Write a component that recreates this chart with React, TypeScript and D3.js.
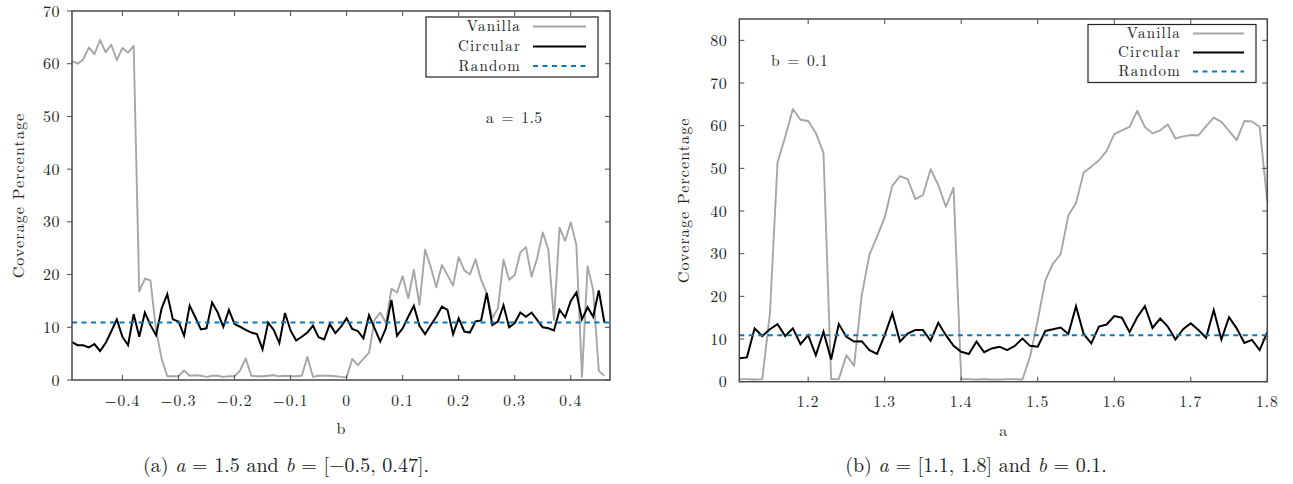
import React from "react";
import * as d3 from "d3";

// ---------- data (left panel: a = 1.5, b varies) ----------
const leftStart = -0.49;
const leftStep = 0.01;
const vanillaLeft = [
  60.5, 60.0, 60.8, 63.1, 61.8, 64.5, 62.2, 63.6, 60.7, 63.0, 62.1, 63.4,
  16.8, 19.2, 18.9, 9.5, 4.0,
  0.7, 0.7, 0.7, 1.8, 0.8, 0.9, 0.8, 0.6, 0.8, 0.8, 0.6, 0.7, 0.7,
  1.8, 4.1, 0.8, 0.7, 0.7, 0.8, 0.9, 0.7, 0.8, 0.7, 0.7, 0.8,
  4.4, 0.6, 0.8, 0.8, 0.8, 0.7, 0.6, 0.5,
  4.0, 2.8, 4.0, 5.2, 11.4, 12.8, 10.8, 17.3, 16.6, 19.7,
  15.5, 20.9, 14.2, 24.7, 21.5, 17.6, 21.8, 19.9, 17.9, 23.3,
  20.8, 20.0, 22.9, 19.0, 16.5, 11.7, 13.6, 22.8, 19.0, 19.9,
  24.2, 25.2, 19.6, 23.1, 28.0, 24.7, 11.4, 28.9, 26.4, 29.9,
  25.6, 0.6, 21.6, 17.1, 1.7, 0.8,
];
const circularLeft = [
  7.2, 6.6, 6.6, 6.2, 6.8, 5.5, 7.0, 9.2, 11.5, 8.2,
  6.6, 12.5, 8.2, 12.8, 10.4, 8.5, 13.6, 16.3, 11.5, 11.1,
  8.4, 14.1, 11.9, 9.6, 9.8, 14.7, 12.8, 10.1, 13.3, 10.6,
  10.1, 9.5, 9.0, 8.7, 5.8, 10.9, 9.5, 7.0, 12.7, 9.4,
  7.5, 8.2, 9.0, 10.3, 8.1, 7.7, 10.6, 8.9, 10.1, 11.7,
  9.7, 9.3, 7.9, 12.3, 9.8, 7.3, 9.8, 15.2, 8.4, 9.8,
  12.0, 14.1, 10.3, 8.7, 10.4, 12.0, 13.9, 13.3, 8.7, 11.7,
  9.2, 9.0, 11.1, 11.3, 16.5, 10.4, 11.1, 14.2, 10.0, 10.8,
  12.8, 12.0, 12.8, 11.4, 10.0, 9.8, 9.4, 13.3, 11.9, 15.0,
  16.6, 11.5, 13.8, 12.0, 17.0, 10.9,
];
const randomLeft = [10.9];
const leftXDomain = [-0.49, 0.47];
const leftYDomain = [0, 70];
const leftXTicks = [-0.4, -0.3, -0.2, -0.1, 0, 0.1, 0.2, 0.3, 0.4];
const leftYTicks = [0, 10, 20, 30, 40, 50, 60, 70];

// ---------- data (right panel: b = 0.1, a varies) ----------
const rightStart = 1.11;
const rightStep = 0.01;
const vanillaRight = [
  0.6, 0.6, 0.5, 0.6, 16.0, 51.4, 57.4, 63.9, 61.4, 61.1, 58.3, 53.7,
  0.6, 0.6, 6.2, 3.7, 20.3, 29.7, 34.0, 38.5,
  45.9, 48.2, 47.5, 42.8, 43.7, 49.8, 46.1, 41.0, 45.5,
  0.6, 0.6, 0.5, 0.6, 0.5, 0.5, 0.6, 0.6, 0.5,
  5.9, 14.4, 23.8, 27.7, 29.9, 39.0, 41.8,
  49.0, 50.4, 51.9, 54.1, 58.0, 58.9, 59.7, 63.5,
  59.7, 58.2, 58.9, 60.3, 57.0, 57.5, 57.8, 57.7, 59.9, 61.9, 60.9, 58.8, 56.6, 61.1, 61.0, 59.7, 42.2,
];
const circularRight = [
  5.5, 5.7, 12.5, 10.7, 12.3, 13.5, 10.7, 12.5, 8.8, 10.9,
  6.2, 11.7, 5.2, 13.5, 10.5, 9.4, 9.5, 7.4, 6.5, 10.9,
  16.0, 9.4, 11.3, 12.1, 12.1, 9.6, 13.8, 10.9, 8.4, 7.0,
  6.5, 9.4, 6.9, 7.8, 8.2, 7.4, 8.4, 10.1, 8.4, 8.2,
  11.9, 12.3, 12.7, 11.2, 17.7, 11.2, 9.0, 12.9, 13.4, 15.4,
  15.0, 11.6, 15.1, 17.7, 12.6, 14.8, 12.9, 9.9, 12.3, 13.7,
  12.1, 10.3, 16.8, 9.9, 15.1, 12.5, 9.1, 9.8, 7.4, 11.6,
];
const randomRight = [10.9];
const rightXDomain = [1.11, 1.8];
const rightYDomain = [0, 85];
const rightXTicks = [1.2, 1.3, 1.4, 1.5, 1.6, 1.7, 1.8];
const rightYTicks = [0, 10, 20, 30, 40, 50, 60, 70, 80];

const seriesNames = ["Vanilla", "Circular", "Random"];

// ---------- styles ----------
const FONT = "'Latin Modern Roman', 'CMU Serif', 'Liberation Serif', serif";
const COL_VANILLA = "#a6a6a6";
const COL_CIRC = "#000000";
const COL_RANDOM = "#0b78b8";
const COL_FRAME = "#4a4a4a";
const TXT = "#222";

type PanelProps = {
  x0: number; x1: number; y0: number; y1: number;
  xDomain: number[]; yDomain: number[];
  xTicks: number[]; yTicks: number[];
  xFmt: (v: number) => string;
  start: number; step: number;
  vanilla: number[]; circular: number[]; random: number[];
  xLabel: string; yLabelX: number;
  leftTicksOut: boolean;
  legend: { x0: number; x1: number; y0: number; y1: number; textX: number; lx0: number; lx1: number; rows: number[] };
  note: { x: number; y: number; text: string };
  caption: { x: number; y: number; parts: { t: string; it?: boolean }[] };
};

function Panel(p: PanelProps) {
  const xs = d3.scaleLinear().domain(p.xDomain).range([p.x0, p.x1]);
  const ys = d3.scaleLinear().domain(p.yDomain).range([p.y1, p.y0]);
  const line = d3
    .line<number>()
    .x((_, i) => xs(p.start + p.step * i))
    .y((d) => ys(d));
  const tl = 5;
  return (
    <g>
      <path d={line(p.vanilla) || ""} fill="none" stroke={COL_VANILLA} strokeWidth={1.9} strokeLinejoin="round" />
      <path d={line(p.circular) || ""} fill="none" stroke={COL_CIRC} strokeWidth={2} strokeLinejoin="miter" />
      <line x1={p.x0} x2={p.x1} y1={ys(p.random[0])} y2={ys(p.random[0])} stroke={COL_RANDOM} strokeWidth={2} strokeDasharray="5,4.5" />
      {/* frame */}
      <rect x={p.x0} y={p.y0} width={p.x1 - p.x0} height={p.y1 - p.y0} fill="none" stroke={COL_FRAME} strokeWidth={1.5} />
      {/* x ticks */}
      {p.xTicks.map((t) => (
        <g key={"xt" + t}>
          <line x1={xs(t)} x2={xs(t)} y1={p.y1} y2={p.y1 - tl} stroke={COL_FRAME} strokeWidth={1} />
          <line x1={xs(t)} x2={xs(t)} y1={p.y0} y2={p.y0 + tl} stroke={COL_FRAME} strokeWidth={1} />
          <text x={xs(t)} y={p.y1 + 25.5} textAnchor="middle" fontSize={15.5} letterSpacing={1} fontFamily={FONT} fill={TXT}>
            {p.xFmt(t)}
          </text>
        </g>
      ))}
      {/* y ticks */}
      {p.yTicks.map((t) => (
        <g key={"yt" + t}>
          <line x1={p.x0} x2={p.leftTicksOut ? p.x0 - tl : p.x0 + tl} y1={ys(t)} y2={ys(t)} stroke={COL_FRAME} strokeWidth={1} />
          <line x1={p.x1} x2={p.x1 - tl} y1={ys(t)} y2={ys(t)} stroke={COL_FRAME} strokeWidth={1} />
          <text x={p.x0 - 12} y={ys(t)} dy="0.35em" textAnchor="end" fontSize={16} letterSpacing={0.5} fontFamily={FONT} fill={TXT}>
            {t}
          </text>
        </g>
      ))}
      <text x={(p.x0 + p.x1) / 2} y={p.y1 + 54} textAnchor="middle" fontSize={16} fontFamily={FONT} fill={TXT}>
        {p.xLabel}
      </text>
      <text
        transform={`translate(${p.yLabelX},${(p.y0 + p.y1) / 2}) rotate(-90)`}
        textAnchor="middle"
        dy="0.35em"
        fontSize={16}
        letterSpacing={1.1}
        fontFamily={FONT}
        fill={TXT}
      >
        Coverage Percentage
      </text>
      {/* legend */}
      <rect x={p.legend.x0} y={p.legend.y0} width={p.legend.x1 - p.legend.x0} height={p.legend.y1 - p.legend.y0} fill="#fff" stroke="#222" strokeWidth={1.2} />
      {seriesNames.map((n, i) => (
        <g key={n}>
          <text x={p.legend.textX} y={p.legend.rows[i]} dy="0.33em" textAnchor="end" fontSize={15} letterSpacing={1.2} fontFamily={FONT} fill={TXT}>
            {n}
          </text>
          <line
            x1={p.legend.lx0}
            x2={p.legend.lx1}
            y1={p.legend.rows[i]}
            y2={p.legend.rows[i]}
            stroke={i === 0 ? COL_VANILLA : i === 1 ? COL_CIRC : COL_RANDOM}
            strokeWidth={2}
            strokeDasharray={i === 2 ? "5,4.5" : undefined}
          />
        </g>
      ))}
      <text x={p.note.x} y={p.note.y} dy="0.35em" fontSize={15.5} letterSpacing={0.5} wordSpacing={1.5} fontFamily={FONT} fill={TXT}>
        {p.note.text}
      </text>
      <text x={p.caption.x} y={p.caption.y} textAnchor="middle" fontSize={20} fontFamily={FONT} fill={TXT}>
        {p.caption.parts.map((c, i) => (
          <tspan key={i} fontStyle={c.it ? "italic" : "normal"}>
            {c.t}
          </tspan>
        ))}
      </text>
    </g>
  );
}

export default function App() {
  const fmtL = d3.format(".1~f");
  const fmtR = d3.format(".1f");
  return (
    <svg width={1293} height={484} style={{ position: "absolute", left: 0, top: 0, background: "#fff" }}>
      <Panel
        x0={72} x1={610} y0={11} y1={380}
        xDomain={leftXDomain} yDomain={leftYDomain}
        xTicks={leftXTicks} yTicks={leftYTicks}
        xFmt={(v) => fmtL(v)}
        start={leftStart} step={leftStep}
        vanilla={vanillaLeft} circular={circularLeft} random={randomLeft}
        xLabel="b" yLabelX={18}
        leftTicksOut={true}
        legend={{ x0: 426, x1: 598, y0: 17, y1: 77, textX: 521, lx0: 533, lx1: 586, rows: [26.5, 46.5, 66] }}
        note={{ x: 486, y: 118, text: "a = 1.5" }}
        caption={{ x: 286, y: 471.5, parts: [{ t: "(a) " }, { t: "a", it: true }, { t: " = 1.5 and " }, { t: "b", it: true }, { t: " = [−0.5, 0.47]." }] }}
      />
      <Panel
        x0={739.3} x1={1267.3} y0={19} y1={381.7}
        xDomain={rightXDomain} yDomain={rightYDomain}
        xTicks={rightXTicks} yTicks={rightYTicks}
        xFmt={(v) => fmtR(v)}
        start={rightStart} step={rightStep}
        vanilla={vanillaRight} circular={circularRight} random={randomRight}
        xLabel="a" yLabelX={683}
        leftTicksOut={false}
        legend={{ x0: 1088, x1: 1256, y0: 24.5, y1: 82.5, textX: 1181, lx0: 1193, lx1: 1244, rows: [33.5, 52.5, 71.5] }}
        note={{ x: 771, y: 61, text: "b = 0.1" }}
        caption={{ x: 976, y: 471.5, parts: [{ t: "(b) " }, { t: "a", it: true }, { t: " = [1.1, 1.8] and " }, { t: "b", it: true }, { t: " = 0.1." }] }}
      />
    </svg>
  );
}
